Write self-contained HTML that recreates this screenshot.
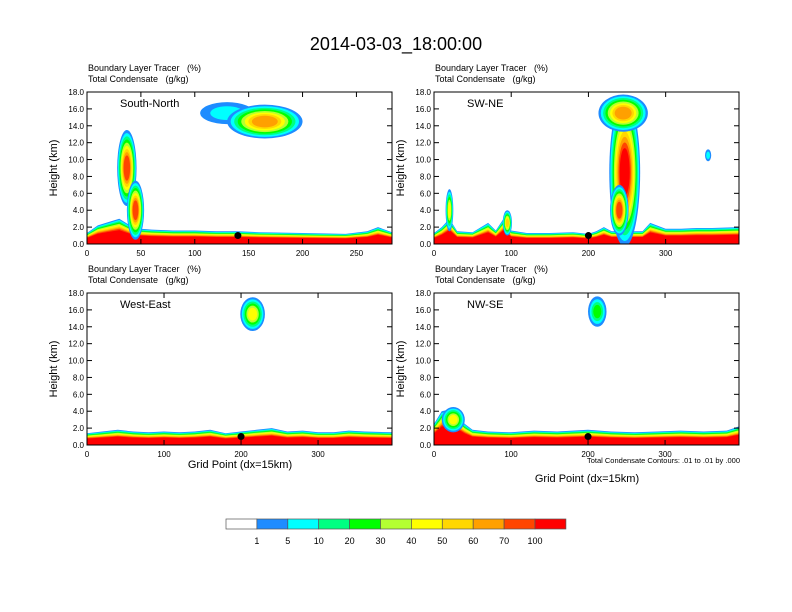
<!DOCTYPE html>
<html><head><meta charset="utf-8"><style>
body{margin:0;background:#fff}
svg{display:block;font-family:"Liberation Sans",sans-serif}
text{white-space:pre}
</style></head><body>
<svg id="chart" width="792" height="612">
<text x="396" y="50" font-size="18" text-anchor="middle">2014-03-03_18:00:00</text>
</svg>
<script>
// colour levels (%)
const levels = ["1","5","10","20","30","40","50","60","70","100"];
const colors = ["#ffffff","#1e8cff","#00ffff","#00ff82","#00ff00","#b4ff32","#ffff00","#ffd700","#ffa000","#ff4500","#ff0000"];
// Panel metadata
const panelNames = ["South-North","SW-NE","West-East","NW-SE"];
const panelXMax = [283,395,396,396];
const panelXTicks = [[0,50,100,150,200,250],[0,100,200,300],[0,100,200,300],[0,100,200,300]];
const yTicks = [0,2,4,6,8,10,12,14,16,18];
// boundary layer tracer depth (km) sampled at grid points
const blX = [[0,10,20,30,40,50,60,80,100,120,140,160,200,240,260,270,283],
             [0,10,20,30,50,70,80,90,100,120,150,180,200,210,220,230,270,280,300,320,340,360,395],
             [0,20,40,60,80,100,120,140,160,180,200,220,240,260,280,300,320,340,360,396],
             [0,10,20,30,40,50,70,100,130,160,200,230,260,290,320,350,380,396]];
const blH = [[1.3,2.2,2.6,3.0,2.2,1.8,1.7,1.6,1.6,1.5,1.5,1.4,1.3,1.2,1.5,2.0,1.4],
             [1.3,2.0,3.0,1.5,1.4,2.5,1.6,3.0,1.6,1.3,1.3,1.4,1.2,1.5,2.0,1.5,1.5,2.5,1.8,1.8,1.9,1.9,2.0],
             [1.4,1.6,1.8,1.6,1.5,1.6,1.5,1.6,1.8,1.4,1.6,1.8,2.0,1.6,1.7,1.5,1.5,1.7,1.6,1.5],
             [2.5,4.0,4.2,3.5,2.5,1.8,1.6,1.5,1.7,1.6,1.8,1.6,1.5,1.6,1.7,1.6,1.7,2.2]];
// cloud blobs: panel index, x centre, z centre (km), half width, half height (km), peak level index
const blobP = [0,0,0,0,1,1,1,1,1,1,2,3,3];
const blobX = [37,45,130,165,247,245,240,20,95,355,215,212,25];
const blobZ = [9,4,15.5,14.5,8.5,15.5,4,4,2.5,10.5,15.5,15.8,3];
const blobW = [9,8,25,35,20,32,12,5,6,4,16,12,15];
const blobH = [4.5,3.5,1.3,2,8.8,2.2,3,2.5,1.5,0.7,2,1.8,1.5];
const blobPk = [9,9,2,8,10,8,9,6,7,2,6,4,6];
const L = [87,434,87,434], T = [92,92,293,293], W = 305, H = 152;
const NS = "http://www.w3.org/2000/svg";
const svg = document.getElementById("chart");
function mk(tag, attrs, parent){const e=document.createElementNS(NS,tag);for(const k in attrs)e.setAttribute(k,attrs[k]);(parent||svg).appendChild(e);return e;}
for(let p=0;p<4;p++){
  const xs=v=>L[p]+v/panelXMax[p]*W, ys=v=>T[p]+H-v/18*H;
  const g=mk("g",{});
  
  
  const cp=mk("clipPath",{id:"c"+p},g); mk("rect",{x:L[p],y:T[p],width:W,height:H},cp);
  const pg=mk("g",{"clip-path":"url(#c"+p+")"},g);
  for(let k=1;k<=10;k++){
    const f=1-(k-1)/9*0.45;
    let d="M"+xs(0)+","+ys(0);
    for(let i=0;i<blX[p].length;i++) d+=" L"+xs(blX[p][i]).toFixed(1)+","+ys(blH[p][i]*f).toFixed(1);
    d+=" L"+xs(panelXMax[p])+","+ys(0)+"Z";
    const e=mk("path",{d:d,fill:colors[k]},pg);
    
    
  }
  for(let b=0;b<blobP.length;b++){ if(blobP[b]!==p) continue;
    for(let k=1;k<=blobPk[b];k++){
      const f=1-(k-1)/blobPk[b]*0.75;
      const e=mk("ellipse",{cx:xs(blobX[b]),cy:ys(blobZ[b]),rx:blobW[b]/panelXMax[p]*W*f,ry:blobH[b]/18*H*f,fill:colors[k]},pg);
      
      
    }
  }
  const dx=[140,200,200,200][p];
  const dot=mk("circle",{cx:xs(dx),cy:ys(1),r:3.5,fill:"#000"},pg);
  
  
  const fr=mk("rect",{x:L[p],y:T[p],width:W,height:H,fill:"none",stroke:"#000","stroke-width":1},g);
  
  
  for(const t of yTicks){
    mk("line",{x1:L[p],x2:L[p]+5,y1:ys(t),y2:ys(t),stroke:"#000"},g);
    mk("line",{x1:L[p]+W,x2:L[p]+W-5,y1:ys(t),y2:ys(t),stroke:"#000"},g);
    const tl=mk("text",{x:L[p]-3,y:ys(t)+3,"font-size":"8","text-anchor":"end"},g); tl.textContent=t.toFixed(1);
    
    
  }
  for(const t of panelXTicks[p]){
    mk("line",{x1:xs(t),x2:xs(t),y1:T[p]+H,y2:T[p]+H-5,stroke:"#000"},g);
    mk("line",{x1:xs(t),x2:xs(t),y1:T[p],y2:T[p]+5,stroke:"#000"},g);
    const tl=mk("text",{x:xs(t),y:T[p]+H+12,"font-size":"8","text-anchor":"middle"},g); tl.textContent=t;
    
    
  }
  const yt=mk("text",{x:0,y:0,"font-size":"11","text-anchor":"middle",transform:"translate("+(L[p]-30)+","+(T[p]+H/2)+") rotate(-90)"},g); yt.textContent="Height (km)";
  
  
  const nm=mk("text",{x:L[p]+33,y:T[p]+15,"font-size":"11"},g); nm.textContent=panelNames[p];
  
  
  const h1=mk("text",{x:L[p]+1,y:T[p]-21,"font-size":"9"},g); h1.textContent="Boundary Layer Tracer   (%)";
  
  
  const h2=mk("text",{x:L[p]+1,y:T[p]-10,"font-size":"9"},g); h2.textContent="Total Condensate   (g/kg)";
  
  
}
const xt1=mk("text",{x:240,y:468,"font-size":"11","text-anchor":"middle"}); xt1.textContent="Grid Point (dx=15km)";


const xt2=mk("text",{x:587,y:482,"font-size":"11","text-anchor":"middle"}); xt2.textContent="Grid Point (dx=15km)";


const cn=mk("text",{x:740,y:463,"font-size":"7.5","text-anchor":"end"}); cn.textContent="Total Condensate Contours: .01 to .01 by .000";


for(let i=0;i<11;i++){
  const r=mk("rect",{x:226+i*30.9,y:519,width:30.9,height:10,fill:colors[i],stroke:"#555","stroke-width":0.7});
  
  
}
for(let i=0;i<levels.length;i++){
  const t=mk("text",{x:226+(i+1)*30.9,y:544,"font-size":"9","text-anchor":"middle"}); t.textContent=levels[i];
  
  
}
</script>
</body></html>
